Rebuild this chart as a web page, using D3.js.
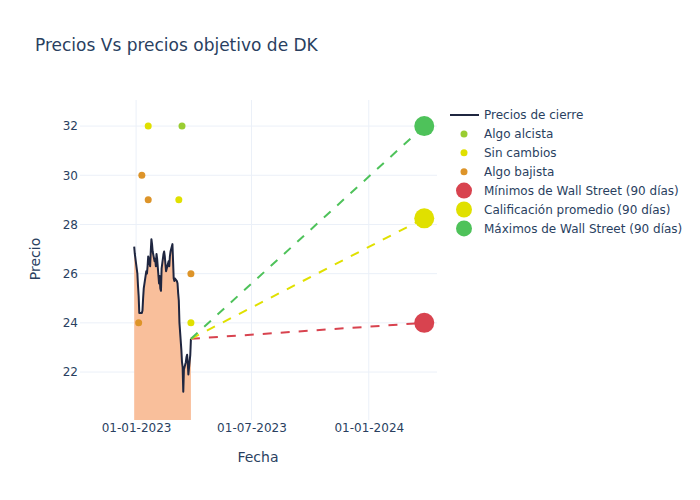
<!DOCTYPE html>
<html>
<head>
<meta charset="utf-8">
<script src="https://cdn.jsdelivr.net/npm/d3@7"></script>
<style>
  html, body { margin: 0; padding: 0; background: #fff; }
  svg { display: block; font-family: "DejaVu Sans", sans-serif; }
</style>
</head>
<body>
<svg id="chart" width="700" height="500"></svg>
<script>
// ---------- data ----------
const dates = [
  "2022-12-29","2022-12-30",
  "2023-01-03","2023-01-04","2023-01-05","2023-01-06","2023-01-09","2023-01-10","2023-01-11","2023-01-12","2023-01-13",
  "2023-01-17","2023-01-18","2023-01-19","2023-01-20","2023-01-23","2023-01-24","2023-01-25","2023-01-26","2023-01-27",
  "2023-01-30","2023-01-31","2023-02-01","2023-02-02","2023-02-03","2023-02-06","2023-02-07","2023-02-08","2023-02-09",
  "2023-02-10","2023-02-13","2023-02-14","2023-02-15","2023-02-16","2023-02-17","2023-02-21","2023-02-22","2023-02-23",
  "2023-02-24","2023-02-27","2023-02-28","2023-03-01","2023-03-02","2023-03-03","2023-03-06","2023-03-07","2023-03-08",
  "2023-03-09","2023-03-10","2023-03-13","2023-03-14","2023-03-15","2023-03-16","2023-03-17","2023-03-20","2023-03-21",
  "2023-03-22","2023-03-23","2023-03-24","2023-03-27","2023-03-28"
];
const closes = [
  27.1, 26.8,
  26.0, 25.5, 25.1, 24.4, 24.4, 24.4, 24.5, 25.0, 25.4,
  26.1, 26.0, 26.3, 26.7, 26.3, 26.9, 27.4, 27.2, 26.9,
  26.5, 26.6, 26.3, 26.8, 26.6, 25.6, 25.9, 25.4, 25.3,
  26.2, 26.8, 26.9, 26.7, 26.4, 26.1, 26.5, 26.3, 26.7,
  26.9, 27.2, 26.5, 25.8, 25.7, 25.8, 25.7, 25.6, 25.2,
  24.9, 24.0, 22.9, 22.4, 22.2, 21.2, 22.1, 22.4, 22.6,
  22.7, 22.4, 21.9, 22.7, 23.35
];

const alcistaDates = ["2023-03-14"];
const alcistaValues = [32];
const sinCambiosDates = ["2023-01-20", "2023-03-09", "2023-03-28"];
const sinCambiosValues = [32, 29, 24];
const bajistaDates = ["2023-01-10", "2023-01-20", "2023-03-28", "2023-01-05"];
const bajistaValues = [30, 29, 26, 24];

const targetDate = "2024-03-28";
const targetLow = 24.0;
const targetAvg = 28.25;
const targetHigh = 32.0;

const xTickDates = ["2023-01-01", "2023-07-01", "2024-01-01"];
const xTickLabels = ["01-01-2023", "01-07-2023", "01-01-2024"];
const yTicks = [22, 24, 26, 28, 30, 32];

const legendLabels = [
  "Precios de cierre", "Algo alcista", "Sin cambios", "Algo bajista",
  "Mínimos de Wall Street (90 días)", "Calificación promedio (90 días)", "Máximos de Wall Street (90 días)"
];

// ---------- layout ----------
const parse = d3.utcParse("%Y-%m-%d");
const svg = d3.select("#chart");
const M = { left: 80, right: 437, top: 100, bottom: 420 };
const textColor = "#2a3f5f";
const gridColor = "#ebf0f8";

const x = d3.scaleUtc()
  .domain([parse("2022-10-05"), parse("2024-04-17")])
  .range([M.left, M.right]);
const y = d3.scaleLinear().domain([20.05, 33.06]).range([M.bottom, M.top]);

const colors = {
  price: "#1f2640",
  fill: "#f9bf9b",
  alcista: "#9acd32",
  sin: "#e0e000",
  bajista: "#dd9429",
  low: "#d8434f",
  avg: "#e0e000",
  high: "#4ec25a"
};

// title
svg.append("text")
  .attr("x", 35).attr("y", 51)
  .attr("fill", textColor).attr("font-size", 17)
  .text("Precios Vs precios objetivo de DK");

// gridlines
const grid = svg.append("g");
grid.selectAll("line.y").data(yTicks).join("line")
  .attr("x1", M.left).attr("x2", M.right)
  .attr("y1", d => y(d)).attr("y2", d => y(d))
  .attr("stroke", gridColor).attr("stroke-width", 1);
grid.selectAll("line.x").data(xTickDates).join("line")
  .attr("x1", d => x(parse(d))).attr("x2", d => x(parse(d)))
  .attr("y1", M.top).attr("y2", M.bottom)
  .attr("stroke", gridColor).attr("stroke-width", 1);

// axes (labels only)
const yAxis = d3.axisLeft(y).tickValues(yTicks).tickSize(0).tickPadding(0).tickFormat(d3.format("d"));
const yg = svg.append("g").attr("transform", `translate(${M.left - 2},0)`).call(yAxis);
yg.select(".domain").remove();
yg.selectAll("text").attr("fill", textColor).attr("font-size", 12).attr("font-family", "DejaVu Sans");

const xAxis = d3.axisBottom(x).tickValues(xTickDates.map(parse)).tickSize(0).tickPadding(0)
  .tickFormat((d, i) => xTickLabels[i]);
const xg = svg.append("g").attr("transform", `translate(0,${M.bottom + 3})`).call(xAxis);
xg.select(".domain").remove();
xg.selectAll("text").attr("fill", textColor).attr("font-size", 12).attr("font-family", "DejaVu Sans");

// axis titles
svg.append("text").attr("x", 258).attr("y", 462).attr("text-anchor", "middle")
  .attr("fill", textColor).attr("font-size", 14).text("Fecha");
svg.append("text").attr("transform", "translate(40,259) rotate(-90)").attr("text-anchor", "middle")
  .attr("fill", textColor).attr("font-size", 14).text("Precio");

// clip
svg.append("clipPath").attr("id", "clip").append("rect")
  .attr("x", M.left).attr("y", M.top).attr("width", M.right - M.left).attr("height", M.bottom - M.top);
const plot = svg.append("g").attr("clip-path", "url(#clip)");

const series = dates.map((d, i) => ({ date: parse(d), value: closes[i] }));

// fill
plot.append("path").datum(series)
  .attr("d", d3.area().x(d => x(d.date)).y0(M.bottom + 5).y1(d => y(d.value)))
  .attr("fill", colors.fill);
// line
plot.append("path").datum(series)
  .attr("d", d3.line().x(d => x(d.date)).y(d => y(d.value)))
  .attr("fill", "none").attr("stroke", colors.price).attr("stroke-width", 2).attr("stroke-linejoin", "round");

// analyst points
function dots(ds, vs, color) {
  plot.append("g").selectAll("circle").data(ds.map((d, i) => ({ date: parse(d), value: vs[i] }))).join("circle")
    .attr("cx", d => x(d.date)).attr("cy", d => y(d.value)).attr("r", 3.5).attr("fill", color);
}
dots(alcistaDates, alcistaValues, colors.alcista);
dots(sinCambiosDates, sinCambiosValues, colors.sin);
dots(bajistaDates, bajistaValues, colors.bajista);

// target lines
const last = series[series.length - 1];
const targets = [
  { value: targetLow, color: colors.low },
  { value: targetAvg, color: colors.avg },
  { value: targetHigh, color: colors.high }
];
targets.forEach(t => {
  plot.append("line")
    .attr("x1", x(last.date)).attr("y1", y(last.value))
    .attr("x2", x(parse(targetDate))).attr("y2", y(t.value))
    .attr("stroke", t.color).attr("stroke-width", 2).attr("stroke-dasharray", "9,9");
});
targets.forEach(t => {
  svg.append("circle")
    .attr("cx", x(parse(targetDate))).attr("cy", y(t.value)).attr("r", 10).attr("fill", t.color);
});

// legend
const lg = svg.append("g");
const legendY0 = 115, legendStep = 18.9;
const legendSymbols = [
  { type: "line", color: colors.price },
  { type: "dot", color: colors.alcista, r: 3.5 },
  { type: "dot", color: colors.sin, r: 3.5 },
  { type: "dot", color: colors.bajista, r: 3.5 },
  { type: "dot", color: colors.low, r: 8 },
  { type: "dot", color: colors.avg, r: 8 },
  { type: "dot", color: colors.high, r: 8 }
];
legendLabels.forEach((lab, i) => {
  const yy = legendY0 + i * legendStep;
  const s = legendSymbols[i];
  if (s.type === "line") {
    lg.append("line").attr("x1", 450).attr("x2", 479).attr("y1", yy).attr("y2", yy)
      .attr("stroke", s.color).attr("stroke-width", 2);
  } else {
    lg.append("circle").attr("cx", 464).attr("cy", yy).attr("r", s.r).attr("fill", s.color);
  }
  lg.append("text").attr("x", 484).attr("y", yy + 4.3)
    .attr("fill", textColor).attr("font-size", 12).text(lab);
});
</script>
</body>
</html>
